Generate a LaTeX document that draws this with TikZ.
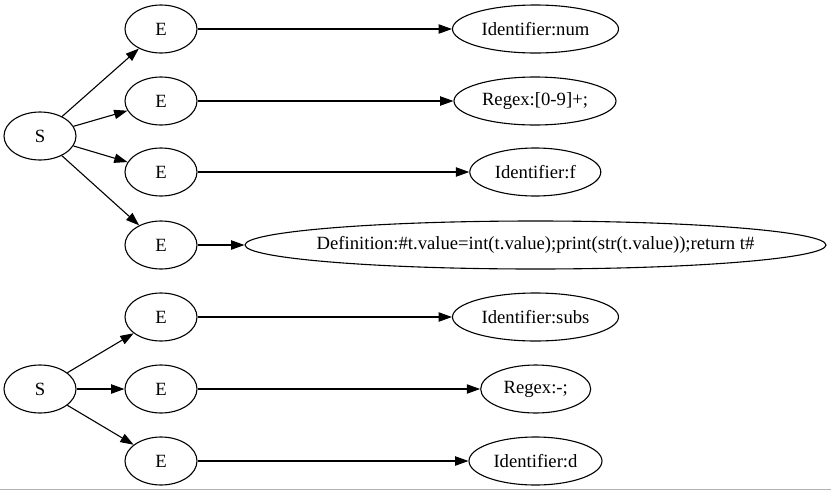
\documentclass[tikz,border=0pt]{standalone}
\usepackage{fontspec}
\setmainfont{Liberation Serif}
\usetikzlibrary{shapes.geometric,arrows.meta}
\begin{document}
\begin{tikzpicture}[x=1pt,y=-1pt,
  every node/.style={font=\fontsize{18.67}{22}\selectfont},
  oval/.style={ellipse, draw, line width=1.1pt, inner sep=0pt, minimum height=48pt, minimum width=#1},
  edge/.style={line width=1.1pt, -{Triangle[length=13.3pt,width=9.3pt]}}]
\useasboundingbox (0,0) rectangle (831,491);
\fill[white] (0,0) rectangle (831,491);
% first tree
\node[oval=72pt] (s1) at (40,136) {S};
\node[oval=72pt] (e1) at (161,29) {E};
\node[oval=72pt] (e2) at (161,101) {E};
\node[oval=72pt] (e3) at (161,172) {E};
\node[oval=72pt] (e4) at (161,245) {E};
\node[oval=166pt] (r1) at (535.5,29) {Identifier:num};
\node[oval=162pt] (r2) at (535,101) {Regex:[0-9]+;};
\node[oval=131pt] (r3) at (535.3,172) {Identifier:f};
\node[oval=581pt, label={center:Definition:\#t.value=int(t.value);print(str(t.value));return t\#}] (r4) at (535.5,245) {};
% second tree
\node[oval=72pt] (s2) at (40,389) {S};
\node[oval=72pt] (e5) at (161,317) {E};
\node[oval=72pt] (e6) at (161,389) {E};
\node[oval=72pt] (e7) at (161,461) {E};
\node[oval=166pt] (r5) at (535.5,317) {Identifier:subs};
\node[oval=110pt] (r6) at (535.7,389) {Regex:-;};
\node[oval=133pt] (r7) at (535.5,461) {Identifier:d};
% edges
\foreach \e in {e1,e2,e3,e4} \draw[edge] (s1) -- (\e);
\foreach \e in {e5,e6,e7} \draw[edge] (s2) -- (\e);
\draw[edge] (e1) -- (r1);
\draw[edge] (e2) -- (r2);
\draw[edge] (e3) -- (r3);
\draw[edge] (e4) -- (r4);
\draw[edge] (e5) -- (r5);
\draw[edge] (e6) -- (r6);
\draw[edge] (e7) -- (r7);
% bottom rule
\coordinate (bl) at (0,489.5);
\coordinate (br) at (831,489.5);
\draw[gray!60, line width=1.3pt] (bl) -- (br);
\end{tikzpicture}
\end{document}
